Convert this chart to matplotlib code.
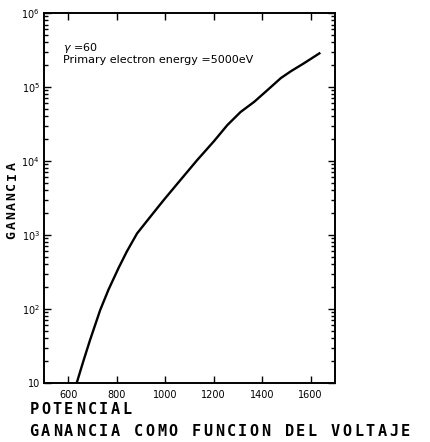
import numpy as np
import matplotlib
matplotlib.use('Agg')
import matplotlib.pyplot as plt
from matplotlib.ticker import LogLocator, FixedLocator, NullFormatter

# curva (potencial en V, ganancia)
potencial = [635, 663, 690, 732, 766, 808, 842, 884, 939, 994, 1063, 1132,
             1201, 1256, 1311, 1367, 1422, 1477, 1518, 1573, 1636]
ganancia = [10, 20, 38, 97, 182, 360, 600, 1050, 1770, 2970, 5540, 10300,
            18500, 30500, 46000, 63000, 91000, 132000, 163000, 210000, 285000]

xticks = [600, 800, 1000, 1200, 1400, 1600]
yticks = [10, 1e2, 1e3, 1e4, 1e5, 1e6]
ytick_labels = ['10', r'$10^2$', r'$10^3$', r'$10^4$', r'$10^5$', r'$10^6$']

W, H = 431, 442
fig = plt.figure(figsize=(W / 100, H / 100), dpi=100)
ax = fig.add_axes([0.102, 0.1335, 0.675, 0.837])

ax.plot(potencial, ganancia, color='black', lw=1.7)
ax.set_yscale('log')
ax.set_xlim(500, 1700)
ax.set_ylim(10, 1e6)

ax.xaxis.set_major_locator(FixedLocator(xticks))
ax.set_xticklabels([str(t) for t in xticks], fontsize=7)
ax.yaxis.set_major_locator(FixedLocator(yticks))
ax.set_yticklabels(ytick_labels, fontsize=7)
ax.yaxis.set_minor_locator(LogLocator(base=10, subs=np.arange(2, 10)))
ax.yaxis.set_minor_formatter(NullFormatter())

ax.tick_params(which='both', direction='in', top=True, right=True, width=1)
ax.tick_params(which='major', length=5, pad=3)
ax.tick_params(axis='x', which='major', pad=5)
ax.tick_params(which='minor', length=3)
for s in ax.spines.values():
    s.set_linewidth(1.4)

ax.text(0.065, 0.905, r'$\gamma$ =60', transform=ax.transAxes, fontsize=8, va='center')
ax.text(0.065, 0.873, 'Primary electron energy =5000eV', transform=ax.transAxes,
        fontsize=8, va='center')


# texto tipo maquina de escribir, con espaciado ancho entre letras
def texto_espaciado(s, x0, y0, paso, vertical=False, size=10):
    for i, c in enumerate(s):
        if vertical:
            fig.text(x0 / W, 1 - (y0 - i * paso) / H, c, rotation=90, ha='center', va='center',
                     fontsize=size, fontweight='bold', family='DejaVu Sans Mono')
        else:
            fig.text((x0 + i * paso) / W, 1 - y0 / H, c, ha='center', va='center',
                     fontsize=size, fontweight='bold', family='DejaVu Sans Mono')


texto_espaciado('GANANCIA', 12, 235, 9.8, vertical=True, size=9.5)
texto_espaciado('POTENCIAL', 34, 410, 11.6, size=11)
texto_espaciado('GANANCIA COMO FUNCION DEL VOLTAJE', 34, 432, 11.6, size=11)

fig.savefig('out.png', dpi=100)
